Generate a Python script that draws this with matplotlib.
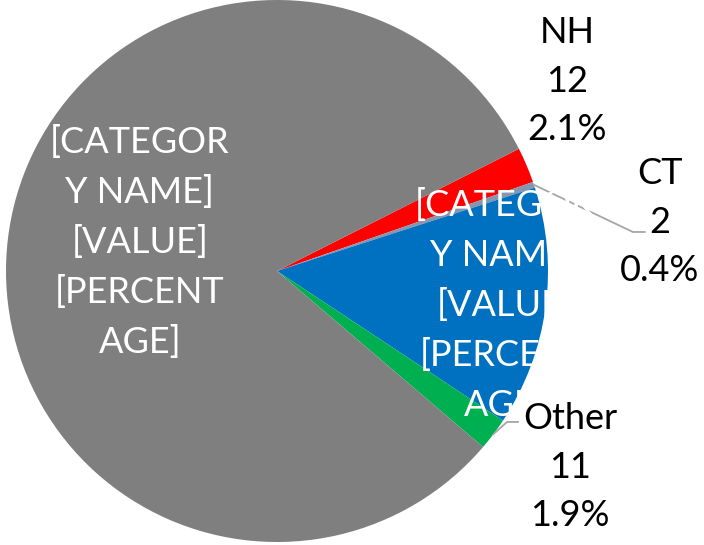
import numpy as np
import matplotlib
matplotlib.use("Agg")
import matplotlib.pyplot as plt

# Data (clockwise from the red slice)
categories = ["NH", "CT", "Blue", "Other", "Gray"]
values = [12, 2, 81, 11, 461]
colors = ["#FF0000", "#8496B0", "#0070C0", "#00B050", "#7F7F7F"]

plt.rcParams['font.family'] = ['Lato', 'DejaVu Sans']

W, H = 704, 545
fig = plt.figure(figsize=(W / 100, H / 100), dpi=100)
ax = fig.add_axes([0, 0, 1, 1])

wedges, _ = ax.pie(values, colors=colors, startangle=26.8, counterclock=False,
                   radius=1.0, wedgeprops=dict(linewidth=0))

# pixel layout: center (277, 271), radius 271 px
R = 271.0
cx, cy = 277.0, 271.0
ax.set_xlim(-cx / R, (W - cx) / R)
ax.set_ylim(-(H - cy) / R, cy / R)
ax.set_aspect('auto')
ax.axis('off')

total = sum(values)
def pct(v):
    return f"{100 * v / total:.1f}%"

def mid_angle(w):
    return np.deg2rad((w.theta1 + w.theta2) / 2)

fs = 26
ls = 1.57
template = "[CATEGOR\nY NAME]\n[VALUE]\n[PERCENT\nAGE]"

# leader lines
a = mid_angle(wedges[1])
ax.plot([np.cos(a), 1.313, 1.357], [np.sin(a), 0.144, 0.144], color="#A6A6A6", lw=1.3, zorder=3)
a = mid_angle(wedges[3])
ax.plot([np.cos(a), 0.849, 0.889], [np.sin(a), -0.557, -0.557], color="#A6A6A6", lw=1.3, zorder=3)

# white template labels
ax.text(-0.506, 0.106, template, color="white", fontsize=fs, ha="center", va="center",
        linespacing=ls, zorder=4)
ax.text(0.841, -0.125, template, color="white", fontsize=fs, ha="center", va="center",
        linespacing=ls, zorder=4)

# outside labels
ax.text(1.070, 0.700, f"{categories[0]}\n{values[0]}\n{pct(values[0])}", color="black",
        fontsize=fs, ha="center", va="center", linespacing=ls, zorder=5)
ax.text(1.413, 0.180, f"{categories[1]}\n{values[1]}\n{pct(values[1])}", color="black",
        fontsize=fs, ha="center", va="center", linespacing=ls, zorder=5)
ax.text(1.081, -0.724, f"{categories[3]}\n{values[3]}\n{pct(values[3])}", color="black",
        fontsize=fs, ha="center", va="center", linespacing=ls, zorder=5,
        bbox=dict(facecolor="white", edgecolor="none", pad=0.5))

fig.savefig("out.png", dpi=100)
